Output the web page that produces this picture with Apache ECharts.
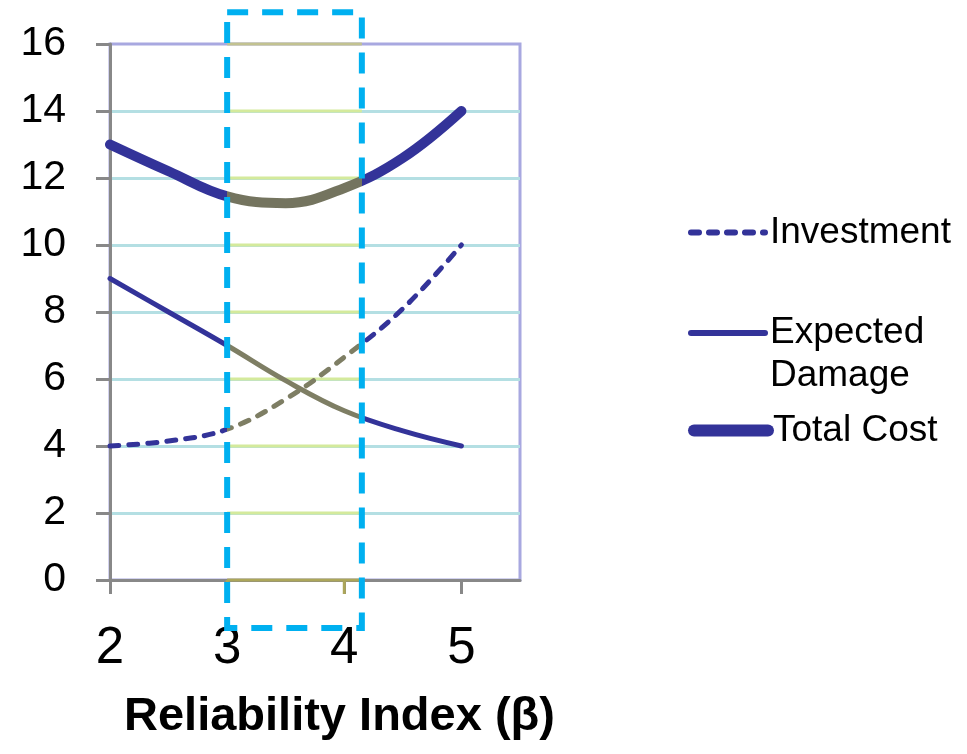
<!DOCTYPE html>
<html><head><meta charset="utf-8">
<script src="https://cdn.jsdelivr.net/npm/echarts@6/dist/echarts.min.js"></script>
<style>html,body{margin:0;padding:0;background:#fff}#c{width:967px;height:754px}</style>
</head><body><div id="c"></div>
<script>
// ---- data ----
const xValues = [2, 2.5, 3, 3.5, 4, 4.5, 5];
const investment = [4.0, 4.15, 4.5, 5.4, 6.65, 8.1, 10.0];
const expectedDamage = [9.0, 8.0, 7.0, 5.95, 5.05, 4.45, 4.0];
const totalCost = [13.0, 12.2, 11.45, 11.25, 11.7, 12.6, 14.0];
const seriesNames = ['Investment', 'Expected Damage', 'Total Cost'];
const xTicks = [2, 3, 4, 5];
const yTicks = [0, 2, 4, 6, 8, 10, 12, 14, 16];
const highlightRange = [3, 4.15];
const highlightTicks = [3, 4];
const boxYRange = [-1.43, 16.95];
const xTitle = 'Reliability Index (β)';

const NAVY = '#333399';
const OLIVE = '#7e7e64';
const OLIVE_DARK = '#74745f';
const FONT = '"Liberation Sans", Arial, sans-serif';

const pairs = arr => xValues.map((x, i) => [x, arr[i]]);
const hiddenSymbol = { color: 'rgba(0,0,0,0)', borderWidth: 0, opacity: 0 };

const chart = echarts.init(document.getElementById('c'));
chart.setOption({
  animation: false,
  backgroundColor: '#fff',
  title: {
    text: xTitle, left: 119, top: 689, padding: 5,
    textStyle: { fontSize: 47, fontWeight: 'bold', color: '#000', fontFamily: FONT }
  },
  grid: { left: 110, right: 447, top: 44, bottom: 174, show: true, borderColor: '#a8a8e0', borderWidth: 3, backgroundColor: 'transparent' },
  xAxis: {
    type: 'value', min: 2, max: 5.5, interval: 1,
    axisLine: { lineStyle: { color: '#888', width: 3 } },
    axisTick: { show: true, length: 14, customValues: xTicks, lineStyle: { color: '#888', width: 3 } },
    axisLabel: { customValues: xTicks, fontSize: 51, color: '#000', margin: 43, fontFamily: FONT },
    splitLine: { show: false }
  },
  yAxis: {
    type: 'value', min: 0, max: 16, interval: 2,
    axisLine: { show: true, lineStyle: { color: '#888', width: 3 } },
    axisTick: { show: true, length: 14, lineStyle: { color: '#888', width: 3 } },
    axisLabel: { fontSize: 41, color: '#000', margin: 44, fontFamily: FONT, padding: [0, 0, 8, 0] },
    splitLine: { show: true, showMinLine: false, showMaxLine: false, lineStyle: { color: '#b4dfe3', width: 3 } }
  },
  legend: [
    { data: [seriesNames[0]], left: 688, top: 234 - 20, padding: 0, itemWidth: 74, itemHeight: 40,
      textStyle: { fontSize: 37, color: '#000', fontFamily: FONT },
      itemStyle: hiddenSymbol,
      lineStyle: { width: 6, color: NAVY, type: [8, 10], cap: 'round' } },
    { data: [seriesNames[1]], left: 688, top: 333 - 20 - 44.5, padding: 0, itemWidth: 74, itemHeight: 40,
      formatter: () => ' \nExpected\nDamage',
      textStyle: { fontSize: 37, lineHeight: 43, color: '#000', fontFamily: FONT },
      itemStyle: hiddenSymbol,
      lineStyle: { width: 6, color: NAVY, type: 'solid', cap: 'round' } },
    { data: [seriesNames[2]], left: 688, top: 432 - 20, padding: 0, itemWidth: 74, itemHeight: 40,
      textStyle: { fontSize: 37, color: '#000', fontFamily: FONT },
      itemStyle: hiddenSymbol,
      lineStyle: { width: 12, color: NAVY, type: 'solid', cap: 'round' } }
  ],
  visualMap: [
    { type: 'piecewise', show: false, dimension: 0, seriesIndex: [0, 1],
      pieces: [{ gte: highlightRange[0], lte: highlightRange[1], color: OLIVE }],
      outOfRange: { color: NAVY } },
    { type: 'piecewise', show: false, dimension: 0, seriesIndex: [2],
      pieces: [{ gte: highlightRange[0], lte: highlightRange[1], color: OLIVE_DARK }],
      outOfRange: { color: NAVY } }
  ],
  series: [
    { name: seriesNames[0], type: 'line', data: pairs(investment), smooth: 0.4, symbol: 'none', z: 4,
      lineStyle: { width: 5, type: [9, 10], cap: 'round' } },
    { name: seriesNames[1], type: 'line', data: pairs(expectedDamage), smooth: 0.4, symbol: 'none', z: 4,
      lineStyle: { width: 5, cap: 'round' } },
    { name: seriesNames[2], type: 'line', data: pairs(totalCost), smooth: 0.4, symbol: 'none', z: 4,
      lineStyle: { width: 10, cap: 'round' } },
    { type: 'custom', silent: true, z: 1, data: yTicks.map(v => [v]),
      renderItem: (params, api) => {
        const v = api.value(0);
        const p1 = api.coord([highlightRange[0], v]);
        const p2 = api.coord([highlightRange[1], v]);
        const color = v === 16 ? '#c2c290' : (v === 0 ? '#aca65a' : '#d4ea9c');
        return { type: 'line', shape: { x1: p1[0], y1: p1[1], x2: p2[0], y2: p2[1] }, style: { stroke: color, lineWidth: 3 } };
      } },
    { type: 'custom', silent: true, z: 1, data: highlightTicks.map(v => [v]),
      renderItem: (params, api) => {
        const p = api.coord([api.value(0), 0]);
        return { type: 'line', shape: { x1: p[0], y1: p[1], x2: p[0], y2: p[1] + 14 }, style: { stroke: '#aca65a', lineWidth: 3 } };
      } },
    { type: 'custom', silent: true, z: 10, data: [[highlightRange[0]]],
      renderItem: (params, api) => {
        const a = api.coord([highlightRange[0], boxYRange[1]]);
        const b = api.coord([highlightRange[1], boxYRange[0]]);
        return { type: 'rect', shape: { x: a[0], y: a[1], width: b[0] - a[0], height: b[1] - a[1] },
          style: { fill: 'none', stroke: '#00b0f0', lineWidth: 6, lineDash: [21, 14] } };
      } }
  ]
});
</script></body></html>
